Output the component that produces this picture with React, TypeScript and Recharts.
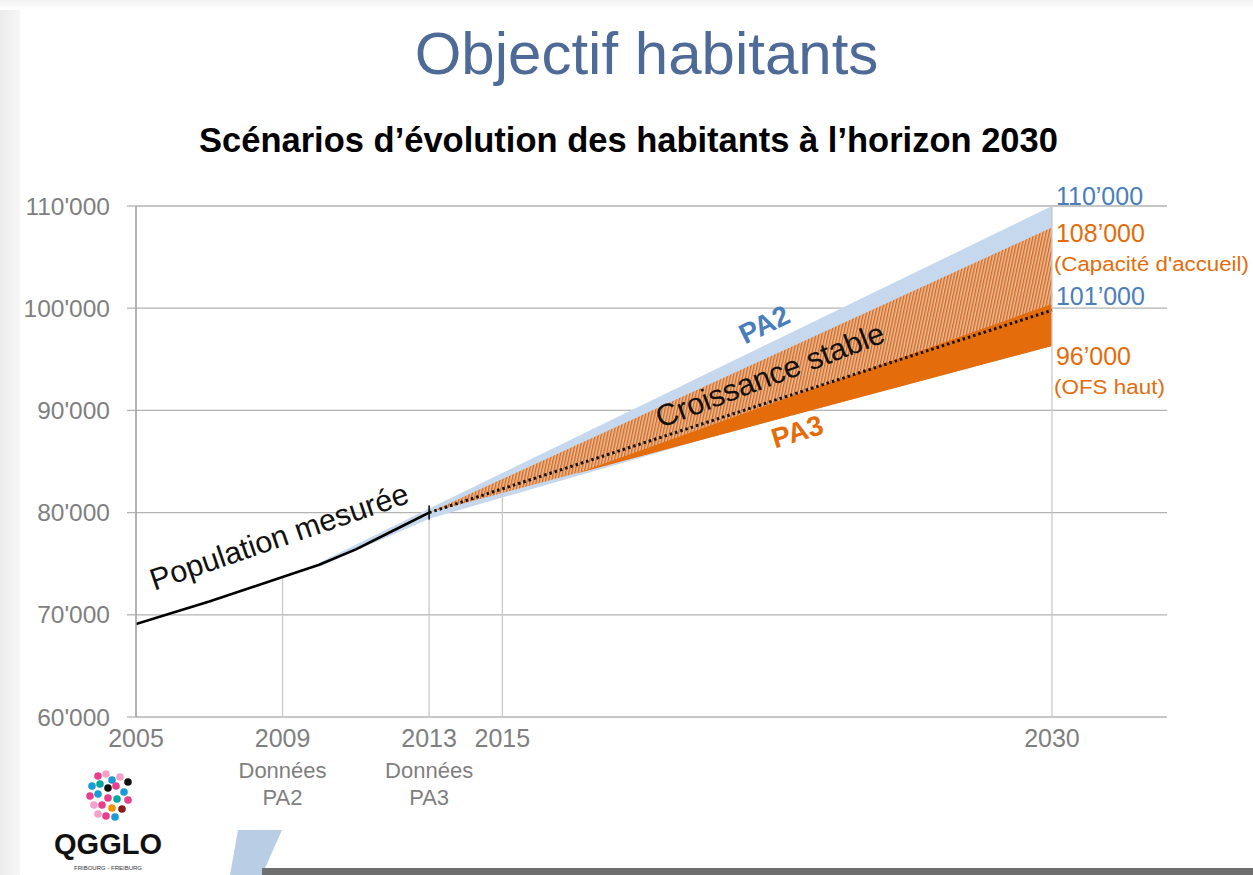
import React from 'react';
import {
  Area,
  CartesianGrid,
  ComposedChart,
  Line,
  ReferenceDot,
  ReferenceLine,
  XAxis,
  YAxis,
} from 'recharts';

// population mesurée
const popYears = [2005, 2006, 2007, 2008, 2009, 2010, 2011, 2012, 2013];
const popValues = [69100, 70200, 71300, 72500, 73700, 74900, 76400, 78200, 80000];

// scénario PA2 (bande bleue)
const pa2Years = [2010, 2013, 2030];
const pa2Low = [74700, 79400, 97000];
const pa2High = [75100, 80400, 110000];

// scénario PA3 (bande hachurée)
const pa3Years = [2013, 2030];
const pa3Low = [80000, 96300];
const pa3High = [80000, 107900];

// OFS haut (bande orange pleine)
const ofsYears = [2017, 2023, 2030];
const ofsLow = [83800, 89600, 96300];
const ofsHigh = [83800, 91500, 100400];

// croissance stable
const stableYears = [2013, 2030];
const stableValues = [80000, 99800];

const xTicks = [2005, 2009, 2013, 2015, 2030];
const yTicks = [60000, 70000, 80000, 90000, 100000, 110000];
const xSubLabels: Record<number, string[]> = {
  2009: ['Données', 'PA2'],
  2013: ['Données', 'PA3'],
};

const guideYears = [2009, 2013, 2015, 2030];
const guideTops = [73700, 80000, 82200, 110000];

const endValues = [110000, 108000, 101000, 96000];
const endTexts = ['110’000', '108’000', '101’000', '96’000'];
const endNotes = ['', '(Capacité d\'accueil)', '', '(OFS haut)'];
const endScenario = ['PA2', 'PA3', 'PA2', 'PA3'];

const bandTexts = ['PA2', 'Croissance stable', 'PA3', 'Population mesurée'];
const bandYears = [2022.15, 2022.3, 2023.05, 2008.9];
const bandValues = [98400, 93500, 87900, 77700];

const BLUE = '#4a7ebb';
const ORANGE = '#e46c0a';
const GREY = '#7f7f7f';
const FONT = '"Liberation Sans", Arial, sans-serif';

const popData = popYears.map((year, i) => ({ year, value: popValues[i] }));
const pa2Data = pa2Years.map((year, i) => ({ year, band: [pa2Low[i], pa2High[i]] }));
const pa3Data = pa3Years.map((year, i) => ({ year, band: [pa3Low[i], pa3High[i]] }));
const ofsData = ofsYears.map((year, i) => ({ year, band: [ofsLow[i], ofsHigh[i]] }));
const stableData = stableYears.map((year, i) => ({ year, value: stableValues[i] }));

const fmt = (v: number) => `${v / 1000}'000`;

const YearTick = (props: any) => {
  const { x, y, payload } = props;
  const sub = xSubLabels[payload.value];
  return (
    <g fontFamily={FONT} fill={GREY}>
      <text x={x} y={y + 21} textAnchor="middle" dominantBaseline="central" fontSize={25} fill={GREY}>
        {payload.value}
      </text>
      {sub &&
        sub.map((s, i) => (
          <text key={s} x={x} y={y + 53 + i * 27} textAnchor="middle" dominantBaseline="central" fontSize={22} fill={GREY}>
            {s}
          </text>
        ))}
    </g>
  );
};

const ValueTick = (props: any) => {
  const { x, y, payload } = props;
  return (
    <text x={x} y={y} textAnchor="end" dominantBaseline="central" fontSize={24.5} fill={GREY} fontFamily={FONT}>
      {fmt(payload.value)}
    </text>
  );
};

const endOffset = [-10, 7, -2, 7];
const noteWidths = [0, 195, 0, 111];
const bandAngles = [-26, -21, -17, -19];
const bandColors = [BLUE, '#111', ORANGE, '#111'];
const bandBold = [true, false, true, false];

export default function App() {
  return (
    <div
      style={{
        position: 'fixed',
        left: 0,
        top: 0,
        width: 1253,
        height: 875,
        background: '#fff',
        fontFamily: FONT,
        overflow: 'hidden',
      }}
    >
      <div style={{ position: 'absolute', left: 0, top: 0, width: 20, height: 875, background: 'linear-gradient(90deg,#ececec,#f7f7f7)' }} />
      <div style={{ position: 'absolute', left: 0, top: 0, width: 1253, height: 10, background: 'linear-gradient(180deg,#f2f2f2,#fff)' }} />
      <div
        style={{
          position: 'absolute',
          left: 20,
          width: 1253,
          top: 16,
          textAlign: 'center',
          fontSize: 60,
          color: '#4e6a97',
          lineHeight: '76px',
        }}
      >
        Objectif habitants
      </div>
      <div
        style={{
          position: 'absolute',
          left: 2,
          width: 1253,
          top: 119,
          textAlign: 'center',
          fontSize: 34.5,
          fontWeight: 'bold',
          color: '#000',
          lineHeight: '42px',
        }}
      >
        Scénarios d’évolution des habitants à l’horizon 2030
      </div>

      <div style={{ position: 'absolute', left: 0, top: 0 }}>
        <ComposedChart width={1253} height={875} margin={{ top: 206, right: 86, bottom: 58, left: 0 }}>
          <defs>
            <pattern id="hatch" width="3" height="6" patternUnits="userSpaceOnUse" patternTransform="rotate(12)">
              <rect width="3" height="6" fill="#f4bd8e" />
              <rect width="1.4" height="6" fill="#c9692e" />
            </pattern>
          </defs>
          <CartesianGrid horizontal vertical={false} stroke="#b3b3b3" strokeWidth={1.3} />
          <XAxis
            type="number"
            dataKey="year"
            domain={[2005, 2033.14]}
            ticks={xTicks}
            allowDataOverflow
            axisLine={false}
            tickLine={false}
            tickSize={0}
            tickMargin={0}
            height={100}
            tick={<YearTick />}
            interval={0}
          />
          <YAxis
            type="number"
            domain={[60000, 110000]}
            ticks={yTicks}
            width={136}
            tickSize={9}
            tickMargin={17}
            tickLine={{ stroke: '#b3b3b3', strokeWidth: 1.3 }}
            axisLine={{ stroke: '#9a9a9a', strokeWidth: 1.5 }}
            tick={<ValueTick />}
            interval={0}
          />
          {guideYears.map((yr, i) => (
            <ReferenceLine
              key={yr}
              segment={[
                { x: yr, y: 60000 },
                { x: yr, y: guideTops[i] },
              ]}
              stroke="#c9c9c9"
              strokeWidth={1.3}
            />
          ))}
          <Area
            data={pa2Data}
            dataKey="band"
            type="linear"
            stroke="none"
            fill="#c6d8ee"
            fillOpacity={1}
            isAnimationActive={false}
            dot={false}
            activeDot={false}
          />
          <Area
            data={pa3Data}
            dataKey="band"
            type="linear"
            stroke="none"
            fill="url(#hatch)"
            fillOpacity={1}
            isAnimationActive={false}
            dot={false}
            activeDot={false}
          />
          <Area
            data={ofsData}
            dataKey="band"
            type="linear"
            stroke="none"
            fill={ORANGE}
            fillOpacity={1}
            isAnimationActive={false}
            dot={false}
            activeDot={false}
          />
          <Line
            data={popData}
            dataKey="value"
            type="linear"
            stroke="#000"
            strokeWidth={2.6}
            dot={false}
            activeDot={false}
            isAnimationActive={false}
          />
          <Line
            data={stableData}
            dataKey="value"
            type="linear"
            stroke="#111"
            strokeWidth={3}
            strokeDasharray="2.5 3"
            dot={false}
            activeDot={false}
            isAnimationActive={false}
          />
          <ReferenceDot
            x={popYears[popYears.length - 1]}
            y={popValues[popValues.length - 1]}
            r={0}
            shape={(p: any) => <line x1={p.cx} y1={p.cy - 7} x2={p.cx} y2={p.cy + 7} stroke="#000" strokeWidth={1.5} />}
          />
          {bandTexts.map((t, i) => (
            <ReferenceDot
              key={t}
              x={bandYears[i]}
              y={bandValues[i]}
              r={0}
              shape={(p: any) => (
                <text
                  x={p.cx}
                  y={p.cy}
                  transform={`rotate(${bandAngles[i]} ${p.cx} ${p.cy})`}
                  textAnchor="middle"
                  dominantBaseline="central"
                  fontFamily={FONT}
                  fontSize={bandBold[i] ? 28 : 30.5}
                  fontWeight={bandBold[i] ? 'bold' : 'normal'}
                  fill={bandColors[i]}
                >
                  {t}
                </text>
              )}
            />
          ))}
          {endValues.map((v, i) => (
            <ReferenceDot
              key={v}
              x={stableYears[stableYears.length - 1]}
              y={v}
              r={0}
              shape={(p: any) => {
                const color = endScenario[i] === 'PA2' ? BLUE : ORANGE;
                const cy = p.cy + endOffset[i];
                return (
                  <g fontFamily={FONT}>
                    <text x={p.cx + 4} y={cy} dominantBaseline="central" fontSize={25} fill={color}>
                      {endTexts[i]}
                    </text>
                    {endNotes[i] && (
                      <text
                        x={p.cx + 2}
                        y={cy + 31}
                        dominantBaseline="central"
                        fontSize={20}
                        fill={color}
                        textLength={noteWidths[i]}
                        lengthAdjust="spacingAndGlyphs"
                      >
                        {endNotes[i]}
                      </text>
                    )}
                  </g>
                );
              }}
            />
          ))}
        </ComposedChart>
      </div>

      {/* logo */}
      <svg style={{ position: 'absolute', left: 40, top: 770 }} width={140} height={105}>
        {[
          [58, 6, '#e83e8c'], [66, 4, '#f5a0c8'], [72, 10, '#1a9ad6'], [80, 7, '#f5a0c8'], [88, 12, '#111'],
          [52, 16, '#1a9ad6'], [60, 14, '#00a99d'], [68, 18, '#111'], [76, 16, '#e83e8c'], [84, 22, '#1a9ad6'],
          [50, 26, '#e83e8c'], [58, 24, '#1a9ad6'], [68, 28, '#e83e8c'], [77, 29, '#00a99d'], [88, 30, '#e83e8c'],
          [54, 35, '#f5a0c8'], [62, 35, '#e83e8c'], [72, 38, '#f39200'], [82, 39, '#8b1a1a'], [66, 46, '#e83e8c'],
          [58, 44, '#f5a0c8'], [75, 47, '#1a9ad6'],
        ].map(([cx, cy, c], i) => (
          <circle key={i} cx={cx as number} cy={cy as number} r={3.8} fill={c as string} />
        ))}
        <text x={68} y={84} textAnchor="middle" fontFamily={FONT} fontWeight="bold" fontSize={29} fill="#111">
          QGGLO
        </text>
        <text x={68} y={100} textAnchor="middle" fontFamily={FONT} fontSize={6} fill="#333">
          FRIBOURG - FREIBURG
        </text>
      </svg>
      <svg style={{ position: 'absolute', left: 0, top: 820 }} width={1253} height={55}>
        <polygon points="238,10 282,10 262,55 230,55" fill="#b9cde5" />
        <rect x={262} y={48} width={991} height={7} fill="#6f6f6f" />
      </svg>
    </div>
  );
}
